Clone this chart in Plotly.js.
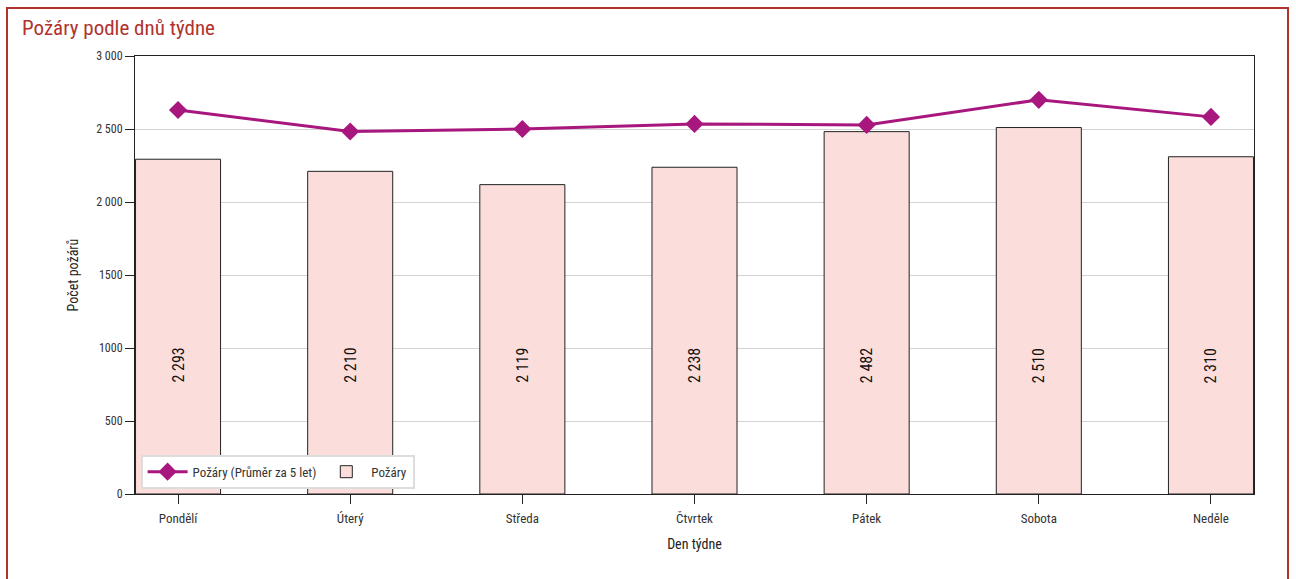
<!DOCTYPE html>
<html><head><meta charset="utf-8">
<script src="https://cdn.plot.ly/plotly-3.0.1.min.js"></script>
<style>
body{margin:0;padding:0;background:#fff;}
#wrap{position:relative;width:1296px;height:579px;}
#chart{position:absolute;left:0;top:0;width:1296px;height:579px;}
#frame{position:absolute;left:6px;top:7px;width:1283px;height:600px;border:2px solid #b0332e;pointer-events:none;box-sizing:border-box;}
</style></head>
<body><div id="wrap"><div id="chart"></div><div id="frame"></div></div>
<script>
const days = ["Pondělí","Úterý","Středa","Čtvrtek","Pátek","Sobota","Neděle"];
const fires = [2293,2210,2119,2238,2482,2510,2310];
const fireLabels = ["2 293","2 210","2 119","2 238","2 482","2 510","2 310"];
const avg5 = [2630,2483,2500,2535,2528,2700,2583];
const yTickVals = [0,500,1000,1500,2000,2500,3000];
const yTickText = ["0","500","1000","1500","2 000","2 500","3 000"];
const labelY = 880;

const font = "'Roboto Condensed','Liberation Sans Narrow','Roboto',sans-serif";

const traces = [
 {type:'scatter',mode:'lines+markers',name:'Požáry (Průměr za 5 let)',x:days,y:avg5,
  line:{color:'#a8177e',width:3},marker:{symbol:'diamond',size:14,color:'#a8177e'}},
 {type:'bar',name:'Požáry',x:days,y:fires,marker:{color:'#fbdedb',line:{color:'#222',width:1}}}
];
const annotations = days.map((d,i)=>({x:d,y:labelY,xref:'x',yref:'y',text:fireLabels[i],textangle:-90,showarrow:false,font:{family:font,size:16,color:'#111'}}));

const layout = {
 width:1296,height:579,
 margin:{l:135,r:42,t:56,b:85},
 paper_bgcolor:'#fff',plot_bgcolor:'#fff',
 font:{family:font,size:13,color:'#333'},
 title:{text:'Požáry podle dnů týdne',x:22/1296,xanchor:'left',y:1-28/579,yanchor:'middle',font:{family:font,size:21,color:'#b0332e'}},
 bargap:0.506,
 showlegend:true,
 legend:{orientation:'h',x:0.005,y:0.012,xanchor:'left',yanchor:'bottom',bgcolor:'#fff',bordercolor:'#ddd',borderwidth:2,font:{family:font,size:13,color:'#333'},traceorder:'normal',itemwidth:40,valign:'middle'},
 xaxis:{title:{text:'Den týdne',font:{family:font,size:14,color:'#222'},standoff:14},range:[-0.25,6.25],showline:true,linecolor:'#222',linewidth:1,mirror:true,ticks:'outside',ticklen:9,tickcolor:'#222',ticklabelstandoff:3,tickfont:{family:font,size:13,color:'#333'},showgrid:false},
 yaxis:{title:{text:'Počet požárů',font:{family:font,size:14,color:'#222'},standoff:14},range:[0,3000],tickvals:yTickVals,ticktext:yTickText,showline:true,linecolor:'#222',linewidth:1,mirror:true,ticks:'outside',ticklen:9,tickcolor:'#222',gridcolor:'#d3d3d3',tickfont:{family:font,size:12,color:'#333'},zeroline:false},
 annotations:annotations
};
Plotly.newPlot('chart',traces,layout,{displayModeBar:false,staticPlot:true});
</script></body></html>
